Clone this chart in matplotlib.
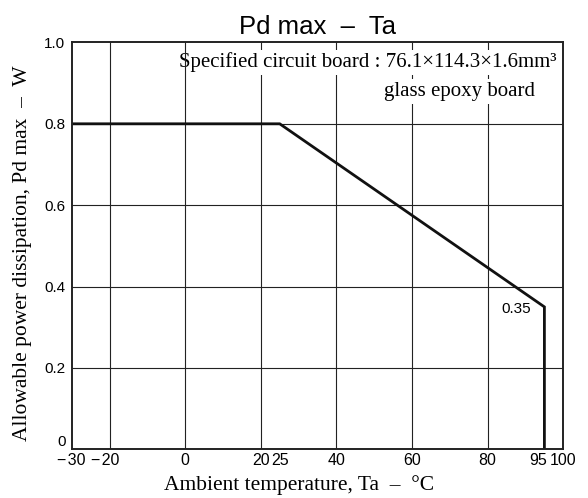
import matplotlib.pyplot as plt
from matplotlib.transforms import ScaledTranslation

# derating curve
ta = [-30, 25, 95, 95]
pd_max = [0.8, 0.8, 0.35, 0.0]

xticks = [-30, -20, 0, 20, 25, 40, 60, 80, 95, 100]
xticklabels = ["\u2212\u200a30", "\u2212\u200a20", "0", "20", "25", "40", "60", "80", "95", "100"]
xgrid = [-20, 0, 20, 40, 60, 80]
yticks = [0, 0.2, 0.4, 0.6, 0.8, 1.0]
yticklabels = ["0", "0.2", "0.4", "0.6", "0.8", "1.0"]

sans = ["Liberation Sans", "DejaVu Sans"]
serif = ["Liberation Serif", "DejaVu Serif"]

fig = plt.figure(figsize=(5.88, 4.98), dpi=100)
ax = fig.add_axes([0.122, 0.0978, 0.836, 0.817])

for x in xgrid:
    # the 0 line runs through the note text in the original
    ax.axvline(x, color="#222222", lw=0.8, zorder=3.5 if x == 0 else 1)
for y in yticks[1:-1]:
    ax.axhline(y, color="#222222", lw=0.8, zorder=1)

ax.plot(ta, pd_max, color="#111111", lw=2.0, zorder=4, solid_joinstyle="miter")

ax.set_xlim(-30, 100)
ax.set_ylim(0, 1.0)
ax.set_xticks(xticks)
ax.set_xticklabels(xticklabels, family=sans, fontsize=11.5)
ax.set_yticks(yticks)
ax.set_yticklabels(yticklabels, family=sans, fontsize=11)
ax.tick_params(axis="x", length=0, pad=3)
ax.tick_params(axis="y", length=0, pad=4.5)
for s in ax.spines.values():
    s.set_linewidth(1.4)
    s.set_color("#222222")
    s.set_zorder(5)

# small nudges like the original labels
xl = ax.get_xticklabels()
xl[1].set_transform(xl[1].get_transform() + ScaledTranslation(-4 / 100, 0, fig.dpi_scale_trans))
xl[8].set_transform(xl[8].get_transform() + ScaledTranslation(-6 / 100, 0, fig.dpi_scale_trans))
ax.get_yticklabels()[0].set_va("bottom")

ax.set_title("Pd max  \u2013  Ta", family=sans, fontsize=18.5, pad=6)
ax.set_xlabel("Ambient temperature, Ta  \u2013  \u00b0C", family=serif, fontsize=15.5)
ax.set_ylabel("Allowable power dissipation, Pd max  \u2013  W", family=serif, fontsize=15.5)
ax.xaxis.set_label_coords(0.4624, -0.088)
ax.yaxis.set_label_coords(-0.1, 0.481)
ax.xaxis.label.set_va("center")
ax.yaxis.label.set_va("center")

box = dict(facecolor="white", edgecolor="none", pad=2)
ax.text(98.3, 0.9386, "Specified circuit board : 76.1\u00d7114.3\u00d71.6mm\u00b3",
        family=serif, fontsize=15, ha="right", va="baseline", bbox=box, zorder=3)
ax.text(92.5, 0.868, "glass epoxy board",
        family=serif, fontsize=15, ha="right", va="baseline", bbox=box, zorder=3)
ax.text(91.5, 0.345, "0.35", family=sans, fontsize=11, ha="right", va="center", zorder=5)

fig.savefig("out.png", dpi=100)
